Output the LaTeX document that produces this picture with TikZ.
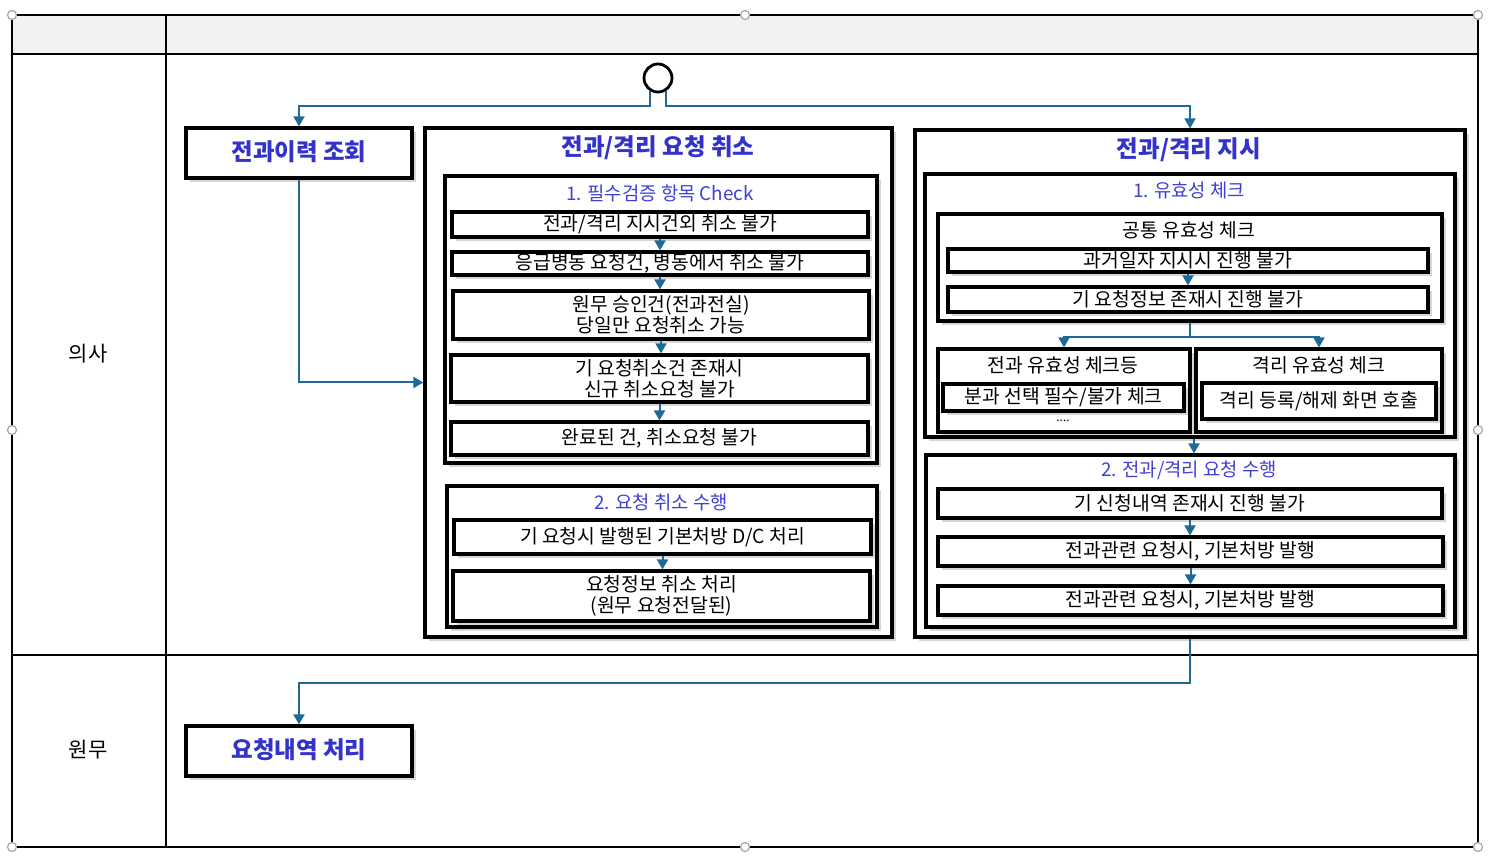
\documentclass[tikz,border=0pt]{standalone}
\usepackage{fontspec}
\setmainfont{Noto Sans CJK KR}
\usetikzlibrary{arrows.meta,shadows,calc}
\definecolor{arrblue}{RGB}{31,105,150}
\definecolor{ttlblue}{RGB}{51,51,204}
\definecolor{subblue}{RGB}{64,64,214}
\tikzset{
  boxs/.style={draw, line width=3.2pt, fill=white, inner sep=0pt,
    drop shadow={shadow xshift=4pt, shadow yshift=-4pt, fill=black, opacity=0.16}},
  ttl/.style={font=\fontsize{23.5}{27}\selectfont\bfseries, text=ttlblue},
  subt/.style={font=\fontsize{18.8}{22}\selectfont, text=subblue},
  txt/.style={font=\fontsize{19.3}{21.5}\selectfont, align=center},
  lane/.style={font=\fontsize{21}{24}\selectfont},
  arr/.style={draw=arrblue, line width=2pt, -{Triangle[width=11pt,length=10pt]}},
  handle/.style={draw=gray!70, fill=white, line width=1.2pt}
}
\begin{document}
\begin{tikzpicture}[x=1pt,y=-1pt]
\useasboundingbox (0,0) rectangle (1492,858);
% swimlane frame
\fill[gray!10] (12,15) rectangle (1478,54);
\draw[line width=1.6pt] (12,15) rectangle (1478,847);
\draw[line width=1.6pt] (12,54) -- (1478,54);
\draw[line width=1.6pt] (12,655) -- (1478,655);
\draw[line width=1.6pt] (166,15) -- (166,847);
\node[lane] (l1) at (88,354) {의사};
\node[lane] (l2) at (88,750) {원무};

% start
\node[draw, circle, line width=2.8pt, minimum size=28pt, inner sep=0pt, fill=white] (start) at (658,78) {};

% left box
\node[boxs, minimum width=226pt, minimum height=50pt] (hist) at (299,153) {};
\node[ttl] (histt) at (299,152) {전과이력 조회};

% cancel column
\node[boxs, minimum width=467pt, minimum height=509pt] (cancel) at (658.5,382.5) {};
\node[ttl] (cancelt) at (658,148) {전과/격리 요청 취소};
\node[boxs, minimum width=432pt, minimum height=287pt] (c1) at (661,319.5) {};
\node[subt] (c1t) at (660,193) {1. 필수검증 항목 Check};
\node[boxs, txt, minimum width=416pt, minimum height=25pt] (a) at (660,224.5) {전과/격리 지시건외 취소 불가};
\node[boxs, txt, minimum width=416pt, minimum height=23pt] (b) at (660,263.5) {응급병동 요청건, 병동에서 취소 불가};
\node[boxs, txt, minimum width=416pt, minimum height=48pt] (c) at (661,315) {원무 승인건(전과전실)\\당일만 요청취소 가능};
\node[boxs, txt, minimum width=417pt, minimum height=47pt] (d) at (659.5,378.5) {기 요청취소건 존재시\\신규 취소요청 불가};
\node[boxs, txt, minimum width=417pt, minimum height=33pt] (e) at (659.5,438.5) {완료된 건, 취소요청 불가};
\node[boxs, minimum width=430pt, minimum height=141pt] (c2) at (662,556.5) {};
\node[subt] (c2t) at (661,502) {2. 요청 취소 수행};
\node[boxs, txt, minimum width=417pt, minimum height=34pt] (f) at (662.5,537) {기 요청시 발행된 기본처방 D/C 처리};
\node[boxs, txt, minimum width=417pt, minimum height=50pt] (g) at (661.5,596) {요청정보 취소 처리\\(원무 요청전달된)};

% order column
\node[boxs, minimum width=550pt, minimum height=507pt] (order) at (1190,383.5) {};
\node[ttl] (ordert) at (1189,150) {전과/격리 지시};
\node[boxs, minimum width=530pt, minimum height=263pt] (o1) at (1190,305.5) {};
\node[subt] (o1t) at (1189,190) {1. 유효성 체크};
\node[boxs, minimum width=504pt, minimum height=107pt] (common) at (1190,267.5) {};
\node[txt] (commont) at (1189,230) {공통 유효성 체크};
\node[boxs, txt, minimum width=480pt, minimum height=23pt] (h) at (1188,260.5) {과거일자 지시시 진행 불가};
\node[boxs, txt, minimum width=480pt, minimum height=25pt] (i) at (1188,299.5) {기 요청정보 존재시 진행 불가};
\node[boxs, minimum width=252pt, minimum height=83pt] (left) at (1064,390.5) {};
\node[txt] (leftt) at (1063,365) {전과 유효성 체크등};
\node[boxs, txt, minimum width=241pt, minimum height=27pt] (lin) at (1063.5,397.5) {분과 선택 필수/불가 체크};
\node[txt, font=\fontsize{12}{14}\selectfont] (dots) at (1063,421) {....};
\node[boxs, minimum width=246pt, minimum height=83pt] (right) at (1319,390.5) {};
\node[txt] (rightt) at (1319,365) {격리 유효성 체크};
\node[boxs, txt, minimum width=234pt, minimum height=36pt] (rin) at (1319,401) {격리 등록/해제 화면 호출};
\node[boxs, minimum width=529pt, minimum height=172pt] (o2) at (1190.5,541) {};
\node[subt] (o2t) at (1189,470) {2. 전과/격리 요청 수행};
\node[boxs, txt, minimum width=504pt, minimum height=29pt] (j) at (1190,503.5) {기 신청내역 존재시 진행 불가};
\node[boxs, txt, minimum width=505pt, minimum height=29pt] (k) at (1190.5,551.5) {전과관련 요청시, 기본처방 발행};
\node[boxs, txt, minimum width=505pt, minimum height=29pt] (l) at (1190.5,600.5) {전과관련 요청시, 기본처방 발행};

% 원무 box
\node[boxs, minimum width=226pt, minimum height=50pt] (req) at (299,751) {};
\node[ttl] (reqt) at (299,750) {요청내역 처리};

% connectors
\draw[arr] (start.240) |- ($(hist.north)+(0,-20)$) -- (hist.north);
\draw[arr] (start.300) |- ($(order.north)+(0,-22)$) -- (order.north);
\draw[arr] (hist.south) |- (cancel.west);
\draw[arr] (a.south) -- (a.south |- b.north);
\draw[arr] (b.south) -- (b.south |- c.north);
\draw[arr] (c.south) -- (c.south |- d.north);
\draw[arr] (d.south) -- (d.south |- e.north);
\draw[arr] (f.south) -- (f.south |- g.north);
\draw[arr] (h.south) -- (h.south |- i.north);
\draw[arr] (common.south) -- ++(0,14) -| (left.north);
\draw[arr] (common.south) ++(0,14) -| (right.north);
\draw[arr] ([xshift=4pt]o1.south) -- ([xshift=4pt]o1.south |- o2.north);
\draw[arr] (j.south) -- (j.south |- k.north);
\draw[arr] (k.south) -- (k.south |- l.north);
\draw[arr] (order.south) -- ++(0,44) -| (req.north);

% selection handles
\foreach \p in {(12,15),(745,15),(1478,15),(12,430),(1478,430),(12,847),(745,847),(1478,847)}
  \draw[handle] \p circle[radius=4.5pt];
\end{tikzpicture}
\end{document}
